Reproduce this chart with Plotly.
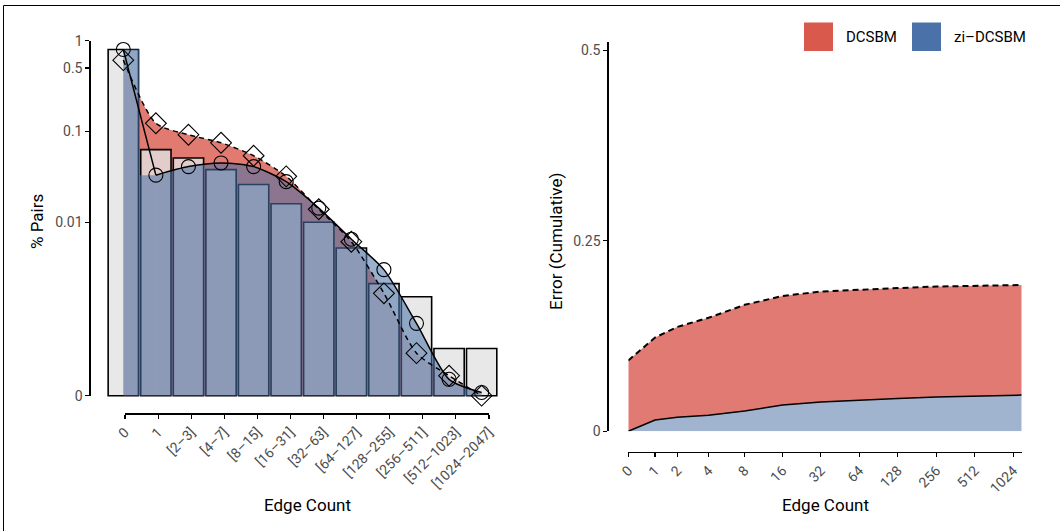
import numpy as np
import plotly.graph_objects as go

# ---------------- data ----------------
categories = ["0", "1", "[2–3]", "[4–7]", "[8–15]", "[16–31]", "[32–63]",
              "[64–127]", "[128–255]", "[256–511]", "[512–1023]", "[1024–2047]"]
observed_share = [0.80, 0.063, 0.051, 0.038, 0.026, 0.016, 0.010, 0.0052,
                  0.0021, 0.0015, 0.00037, 0.00037]
dcsbm_share = [0.61, 0.123, 0.092, 0.075, 0.054, 0.032, 0.0139, 0.0061,
               0.00164, 0.00032, 0.00013, 0.0]
zi_share = [0.80, 0.033, 0.041, 0.045, 0.041, 0.028, 0.0143, 0.0065,
            0.0030, 0.00075, 0.000105, 0.00002]
share_ticks = [0, 0.01, 0.1, 0.5, 1]
share_tick_labels = ["0", "0.01", "0.1", "0.5", "1"]

edge_counts = [0, 1, 2, 4, 8, 16, 32, 64, 128, 256, 512, 1024, 1190]
dcsbm_err = [0.093, 0.123, 0.137, 0.149, 0.166, 0.1776, 0.1835, 0.186,
             0.188, 0.190, 0.1907, 0.1913, 0.192]
zi_err = [0.0, 0.0148, 0.0185, 0.021, 0.0266, 0.0345, 0.0385, 0.041,
          0.043, 0.045, 0.0463, 0.047, 0.0475]
edge_ticks = [0, 1, 2, 4, 8, 16, 32, 64, 128, 256, 512, 1024]
err_ticks = [0, 0.25, 0.5]
err_tick_labels = ["0", "0.25", "0.5"]

# ---------------- scales (pseudo-log) ----------------
def t_share(v):
    return np.arcsinh(np.asarray(v, dtype=float) / 0.000246) / np.log(10)

def t_edge(x):
    return np.arcsinh(np.asarray(x, dtype=float) / 2.0) / np.log(2)

W, H = 1060, 531
def fx(px):
    return px / W
def fy(py):
    return 1 - py / H

RED = "rgb(217,89,76)"
BLUE = "rgb(74,114,168)"
FONT = "Roboto"
TICKFONT = dict(family=FONT, size=14, color="#4d4d4d")
SMOOTH = 0.7

fig = go.Figure()

# ---- left panel: red area (base layer, under bars)
fig.add_trace(go.Scatter(
    x=categories, y=t_share(dcsbm_share), xaxis="x", yaxis="y",
    mode="lines", line=dict(width=0, shape="spline", smoothing=SMOOTH),
    fill="tozeroy", fillcolor="rgba(217,89,76,0.8)",
    hoverinfo="skip", showlegend=False))

# ---- left panel overlay: bars
fig.add_trace(go.Bar(
    x=categories, y=t_share(observed_share), xaxis="x2", yaxis="y2",
    marker=dict(color="rgba(226,226,226,0.8)", line=dict(color="black", width=1.6)),
    hoverinfo="skip", showlegend=False))

# blue area: first step (0 -> 1) then smooth
blue_fill = "rgba(74,114,168,0.56)"
fig.add_trace(go.Scatter(
    x=categories[:2], y=t_share(zi_share[:2]), xaxis="x2", yaxis="y2",
    mode="lines", line=dict(width=0, shape="hvh"),
    fill="tozeroy", fillcolor=blue_fill, hoverinfo="skip", showlegend=False))
fig.add_trace(go.Scatter(
    x=categories[1:], y=t_share(zi_share[1:]), xaxis="x2", yaxis="y2",
    mode="lines", line=dict(width=0, shape="spline", smoothing=SMOOTH),
    fill="tozeroy", fillcolor=blue_fill, hoverinfo="skip", showlegend=False))

# DCSBM dashed curve + diamonds
fig.add_trace(go.Scatter(
    x=categories, y=t_share(dcsbm_share), xaxis="x2", yaxis="y2",
    mode="lines", line=dict(color="black", width=1.5, dash="5px,4px",
                            shape="spline", smoothing=SMOOTH),
    hoverinfo="skip", showlegend=False))
fig.add_trace(go.Scatter(
    x=categories, y=t_share(dcsbm_share), xaxis="x2", yaxis="y2",
    mode="markers",
    marker=dict(symbol="diamond-open", size=16, color="black", line=dict(width=1.1)),
    cliponaxis=False, hoverinfo="skip", showlegend=False))

# zi-DCSBM solid curve (straight first segment) + circles
fig.add_trace(go.Scatter(
    x=categories[:2], y=t_share(zi_share[:2]), xaxis="x2", yaxis="y2",
    mode="lines", line=dict(color="black", width=1.5),
    hoverinfo="skip", showlegend=False))
fig.add_trace(go.Scatter(
    x=categories[1:], y=t_share(zi_share[1:]), xaxis="x2", yaxis="y2",
    mode="lines", line=dict(color="black", width=1.5, shape="spline", smoothing=SMOOTH),
    hoverinfo="skip", showlegend=False))
fig.add_trace(go.Scatter(
    x=categories, y=t_share(zi_share), xaxis="x2", yaxis="y2",
    mode="markers",
    marker=dict(symbol="circle-open", size=14, color="black", line=dict(width=1.1)),
    cliponaxis=False, hoverinfo="skip", showlegend=False))

# ---- left panel offset axes (invisible carrier trace)
fig.add_trace(go.Scatter(
    x=categories, y=[0] * len(categories), xaxis="x3", yaxis="y3",
    mode="markers", marker=dict(opacity=0), hoverinfo="skip", showlegend=False))

# ---- right panel
fig.add_trace(go.Scatter(
    x=t_edge(edge_counts), y=zi_err, xaxis="x4", yaxis="y4",
    mode="lines", line=dict(color="black", width=1.5),
    fill="tozeroy", fillcolor="rgb(160,180,208)",
    hoverinfo="skip", showlegend=False))
fig.add_trace(go.Scatter(
    x=t_edge(edge_counts), y=dcsbm_err, xaxis="x4", yaxis="y4",
    mode="lines", line=dict(color="black", width=2, dash="6px,4px"),
    fill="tonexty", fillcolor="rgb(224,122,114)",
    hoverinfo="skip", showlegend=False))

left_dom_x = [fx(103.75), fx(501.2)]
left_dom_y = [fy(409.3), fy(35.2)]
cat_common = dict(type="category", categoryorder="array", categoryarray=categories)

axis_style = dict(showline=True, linecolor="black", linewidth=1.3, ticks="outside",
                  ticklen=4, tickwidth=1.1, tickcolor="black", showgrid=False,
                  zeroline=False, tickfont=TICKFONT)

fig.update_layout(
    width=W, height=H, autosize=False,
    margin=dict(l=0, r=0, t=0, b=0, pad=0, autoexpand=False),
    paper_bgcolor="white", plot_bgcolor="rgba(0,0,0,0)",
    bargap=0.07, showlegend=False,
    font=dict(family=FONT, size=14, color="black"),
    xaxis=dict(domain=left_dom_x, range=[-0.6, 11.6], visible=False, anchor="y", **cat_common),
    yaxis=dict(domain=left_dom_y, range=[-0.15, 3.97], visible=False, anchor="x"),
    xaxis2=dict(overlaying="x", range=[-0.6, 11.6], visible=False, anchor="y2", **cat_common),
    yaxis2=dict(overlaying="y", range=[-0.15, 3.97], visible=False, anchor="x2"),
    xaxis3=dict(domain=[fx(125), fx(489)], range=[0, len(categories) - 1],
                anchor="free", position=fy(413.3), tickangle=-45, **cat_common, **axis_style),
    yaxis3=dict(domain=[fy(395.7), fy(40.7)], range=[0, float(t_share(1))],
                anchor="free", position=fx(89.3),
                tickmode="array", tickvals=list(t_share(share_ticks)),
                ticktext=share_tick_labels, **axis_style),
    xaxis4=dict(domain=[fx(628.3), fx(1021.7)],
                range=[float(t_edge(edge_counts[0])), float(t_edge(edge_counts[-1]))],
                anchor="free", position=fy(451.7), tickangle=-45,
                tickmode="array", tickvals=list(t_edge(edge_ticks)),
                ticktext=[str(v) for v in edge_ticks], **axis_style),
    yaxis4=dict(domain=[fy(431.3), fy(42)], range=[0, 0.511],
                anchor="free", position=fx(607.3),
                tickmode="array", tickvals=err_ticks, ticktext=err_tick_labels, **axis_style),
)

def label(text, x, y, size=17, angle=0):
    fig.add_annotation(text=text, x=fx(x), y=fy(y), xref="paper", yref="paper",
                       xanchor="center", yanchor="middle", textangle=angle,
                       showarrow=False, font=dict(family=FONT, size=size, color="black"))

# axis titles
label("% Pairs", 37, 222, angle=-90)
label("Edge Count", 307, 505)
label("Edge Count", 825, 505)
label("Error (Cumulative)", 556, 242, angle=-90)

# legend keys
legend_items = [("DCSBM", RED, 804), ("zi–DCSBM", BLUE, 912)]
for name, col, x0 in legend_items:
    fig.add_shape(type="rect", xref="paper", yref="paper",
                  x0=fx(x0), x1=fx(x0 + 29), y0=fy(51), y1=fy(22.5),
                  fillcolor=col, line=dict(width=0))
    fig.add_annotation(text=name, x=fx(x0 + 40), y=fy(37), xref="paper", yref="paper",
                       xanchor="left", yanchor="middle", showarrow=False,
                       font=dict(family=FONT, size=15, color="black"))

# outer frame
fig.add_shape(type="rect", xref="paper", yref="paper",
              x0=fx(3.5), x1=1.02, y0=-0.05, y1=fy(5.5),
              line=dict(color="black", width=1), fillcolor="rgba(0,0,0,0)")

fig.write_html(
    "out.html",
    config={"displayModeBar": False, "staticPlot": True},
    post_script="document.body.style.margin='0';document.body.style.padding='0';"
                "document.documentElement.style.overflow='hidden';",
)
